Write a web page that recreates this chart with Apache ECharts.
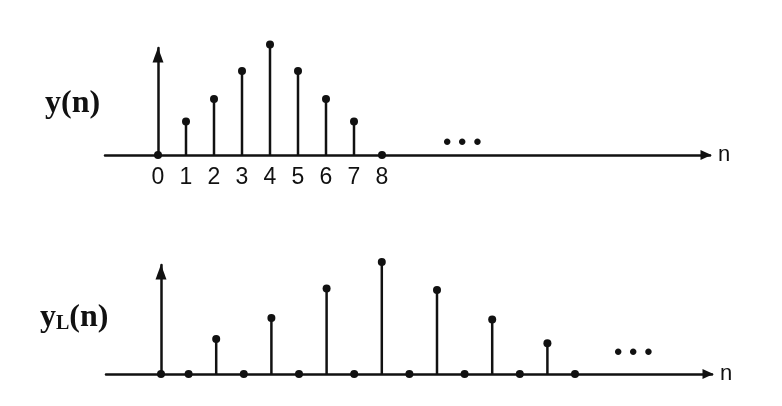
<!DOCTYPE html>
<html><head><meta charset="utf-8">
<script src="https://cdn.jsdelivr.net/npm/echarts@6/dist/echarts.min.js"></script>
<style>html,body{margin:0;padding:0;background:#fff}#c{width:782px;height:406px}</style>
</head><body><div id="c"></div>
<script>
// ---- data ----
const nTop = [0, 1, 2, 3, 4, 5, 6, 7, 8];
const yTop = [0, 1.2, 2, 3, 3.95, 3, 2, 1.2, 0];
const nBottom = [0, 1, 2, 3, 4, 5, 6, 7, 8, 9, 10, 11, 12, 13, 14, 15];
const yBottom = [0, 0, 1.25, 0, 2, 0, 3.05, 0, 4, 0, 3, 0, 1.95, 0, 1.1, 0];
const tickValues = [0, 1, 2, 3, 4, 5, 6, 7, 8];
const tickLabels = ['0', '1', '2', '3', '4', '5', '6', '7', '8'];
const axisName = 'n';
const topTitle = 'y(n)';
const ellipsis = '• • •';

const INK = '#111';
const pairs = (xs, ys) => xs.map((x, i) => [x, ys[i]]);
const stems = (xs, ys) => pairs(xs, ys).filter(p => p[1] !== 0);

const chart = echarts.init(document.getElementById('c'), null, {renderer: 'canvas'});

const xAxisBase = (gi, min, max, labels) => ({
  type: 'value', gridIndex: gi, min: min, max: max,
  name: axisName, nameLocation: 'end', nameGap: 8,
  nameTextStyle: {color: INK, fontFamily: 'Liberation Sans', fontSize: 22, verticalAlign: 'middle'},
  axisLine: {show: true, onZero: false, symbol: ['none', 'triangle'], symbolSize: [10, 11], symbolOffset: [0, -4],
    lineStyle: {color: INK, width: 2.5}},
  axisTick: {show: false},
  splitLine: {show: false},
  axisLabel: labels ? {
    show: true, customValues: tickValues, margin: 11,
    fontFamily: 'Liberation Sans', fontSize: 23, color: INK,
    formatter: v => tickLabels[tickValues.indexOf(Math.round(v))] || ''
  } : {show: false}
});
const yAxisBase = (gi, max) => ({
  type: 'value', gridIndex: gi, min: 0, max: max,
  axisLine: {show: true, onZero: true, symbol: ['none', 'triangle'], symbolSize: [11, 15], symbolOffset: [0, -7],
    lineStyle: {color: INK, width: 2.5}},
  axisTick: {show: false}, axisLabel: {show: false}, splitLine: {show: false}
});

chart.setOption({
  animation: false,
  backgroundColor: '#fff',
  grid: [
    {left: 105, top: 48, width: 605, height: 107},
    {left: 106, top: 265, width: 606, height: 109}
  ],
  xAxis: [
    xAxisBase(0, (105 - 158) / 28, (710 - 158) / 28, true),
    xAxisBase(1, (106 - 161) / 27.6, (712 - 161) / 27.6, false)
  ],
  yAxis: [yAxisBase(0, 107 / 28), yAxisBase(1, 109 / 28)],
  series: [
    {type: 'bar', xAxisIndex: 0, yAxisIndex: 0, data: stems(nTop, yTop), barWidth: 2.5,
      itemStyle: {color: INK}, z: 3},
    {type: 'scatter', xAxisIndex: 0, yAxisIndex: 0, data: pairs(nTop, yTop), symbolSize: 8,
      itemStyle: {color: INK, opacity: 1}, clip: false, z: 4},
    {type: 'bar', xAxisIndex: 1, yAxisIndex: 1, data: stems(nBottom, yBottom), barWidth: 2.5,
      itemStyle: {color: INK}, z: 3},
    {type: 'scatter', xAxisIndex: 1, yAxisIndex: 1, data: pairs(nBottom, yBottom), symbolSize: 8,
      itemStyle: {color: INK, opacity: 1}, clip: false, z: 4}
  ],
  graphic: [
    {type: 'text', x: 45, y: 104, style: {text: topTitle, fill: INK,
      font: 'bold 32px "Liberation Serif"', verticalAlign: 'middle'}},
    {type: 'text', x: 40, y: 318, style: {text: '{a|y}{b|L}{a|(n)}', fill: INK,
      verticalAlign: 'middle',
      rich: {a: {font: 'bold 32px "Liberation Serif"', fill: INK, verticalAlign: 'bottom'},
             b: {font: 'bold 20px "Liberation Serif"', fill: INK, verticalAlign: 'bottom'}}}},
    {type: 'text', x: 443, y: 143, style: {text: ellipsis, fill: INK,
      font: '24px "Liberation Sans"', verticalAlign: 'middle'}},
    {type: 'text', x: 614, y: 353, style: {text: ellipsis, fill: INK,
      font: '24px "Liberation Sans"', verticalAlign: 'middle'}}
  ]
});
</script></body></html>
